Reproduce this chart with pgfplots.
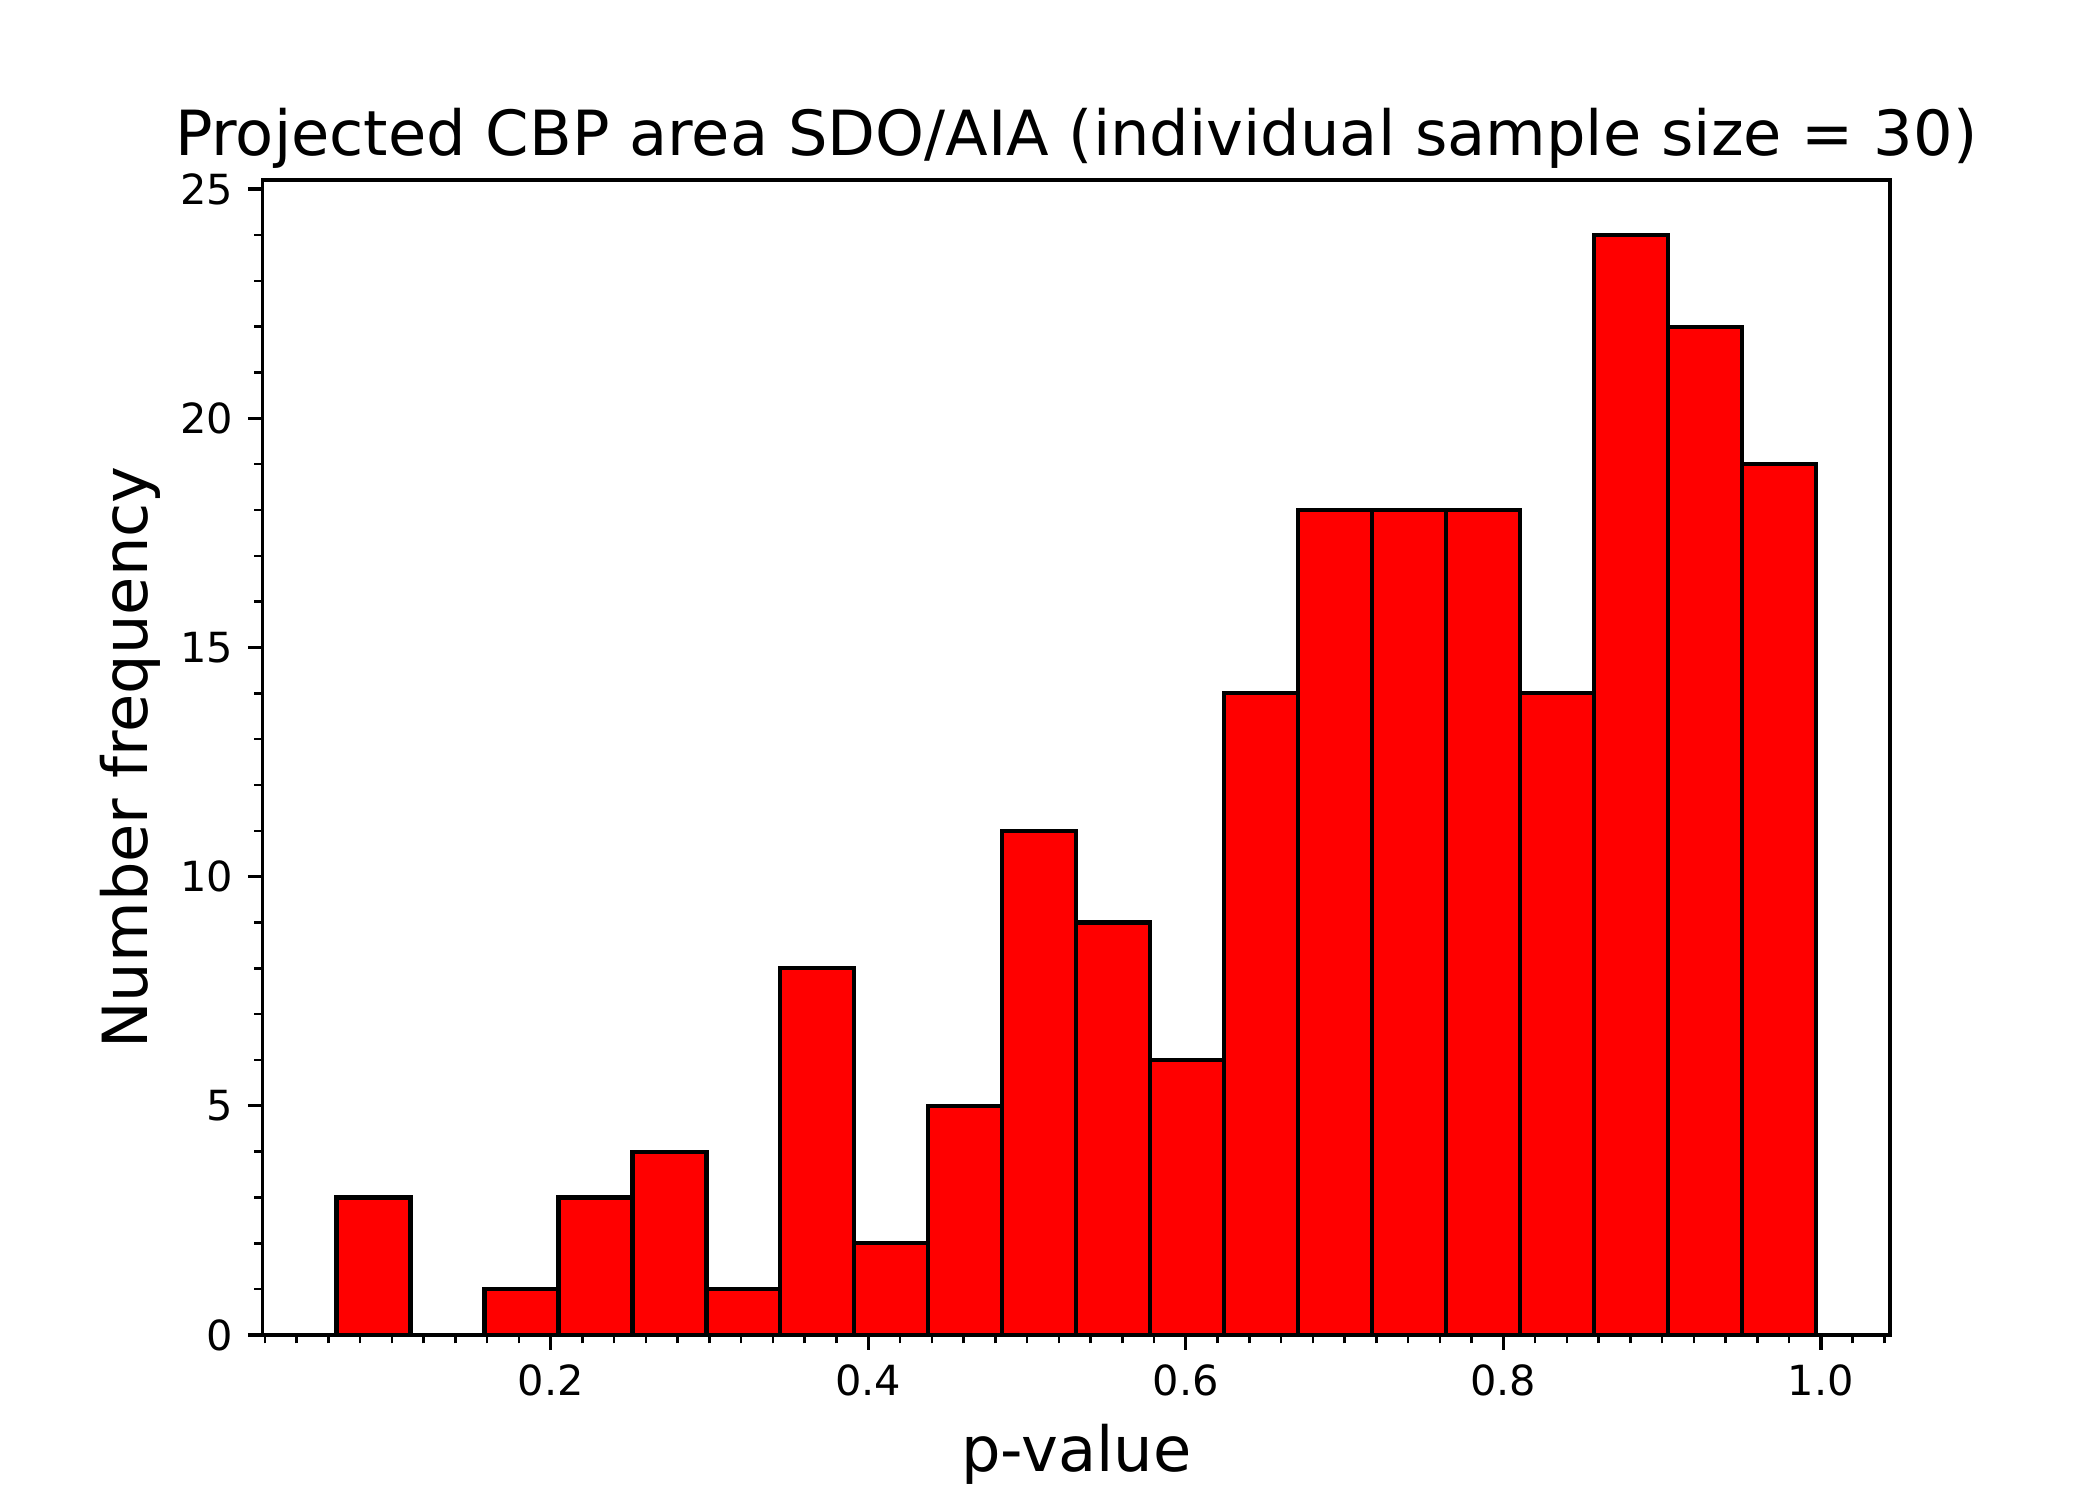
\documentclass[border=0pt]{standalone}
\usepackage{fontspec}
\setmainfont{DejaVu Sans}
\usepackage{pgfplots}
\pgfplotsset{compat=1.18}
\begin{document}
\begin{tikzpicture}
\path[use as bounding box] (0,0) rectangle (7in,5in);
\begin{axis}[
  at={(0.875in,0.55in)}, anchor=south west,
  scale only axis, width=5.425in, height=3.85in,
  xmin=0.0185, xmax=1.0435, ymin=0, ymax=25.2,
  axis line style={line width=0.8pt},
  xtick={0.2,0.4,0.6,0.8,1.0},
  xticklabels={0.2,0.4,0.6,0.8,1.0},
  minor xtick={0.02,0.04,0.06,0.08,0.10,0.12,0.14,0.16,0.18,0.22,0.24,0.26,0.28,0.30,0.32,0.34,0.36,0.38,0.42,0.44,0.46,0.48,0.50,0.52,0.54,0.56,0.58,0.62,0.64,0.66,0.68,0.70,0.72,0.74,0.76,0.78,0.82,0.84,0.86,0.88,0.90,0.92,0.94,0.96,0.98,1.02,1.04},
  ytick={0,5,10,15,20,25},
  minor ytick={1,2,3,4,6,7,8,9,11,12,13,14,16,17,18,19,21,22,23,24},
  tick align=outside, tick pos=left,
  major tick length=3.5pt, minor tick length=2pt,
  every major tick/.style={black, line width=0.8pt},
  every minor tick/.style={black, line width=0.6pt},
  tick label style={font=\fontsize{10}{12}\selectfont},
  /pgf/number format/assume math mode=true,
  xlabel={p-value}, ylabel={Number frequency},
  label style={font=\fontsize{15}{18}\selectfont},
  ylabel shift=-2pt,
  title={Projected CBP area SDO/AIA (individual sample size = 30)},
  title style={font=\fontsize{15}{18}\selectfont, at={(0.5,1)}, anchor=base, yshift=0pt},
]
\addplot[ybar interval, fill={rgb,255:red,255;green,0;blue,0}, draw=black, line width=1pt]
coordinates {
(0.0651,3) (0.1117,0) (0.1583,1) (0.2049,3) (0.2515,4) (0.2981,1) (0.3446,8)
(0.3912,2) (0.4378,5) (0.4844,11) (0.5310,9) (0.5776,6) (0.6242,14) (0.6708,18)
(0.7174,18) (0.7640,18) (0.8106,14) (0.8572,24) (0.9037,22) (0.9503,19) (0.9969,19)
};
\end{axis}
\end{tikzpicture}
\end{document}
